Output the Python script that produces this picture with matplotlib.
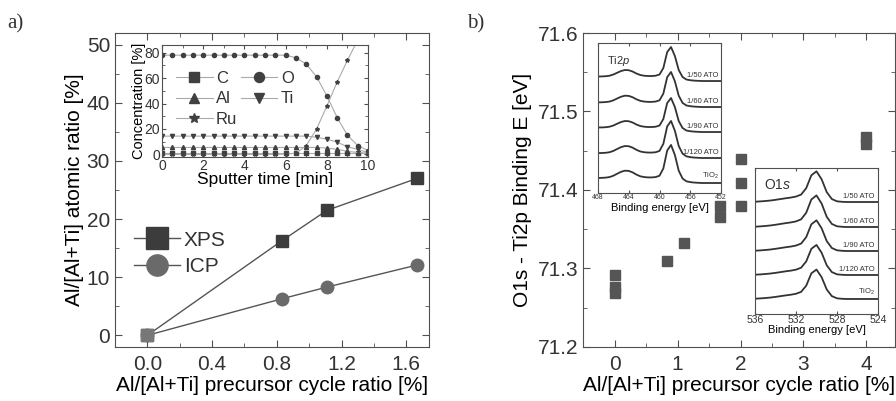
import numpy as np
import matplotlib
matplotlib.use("Agg")
import matplotlib.pyplot as plt
from matplotlib.ticker import MultipleLocator

plt.rcParams['font.family'] = ['Liberation Sans', 'DejaVu Sans']
plt.rcParams['mathtext.fontset'] = 'custom'
plt.rcParams['mathtext.rm'] = 'Liberation Sans'
plt.rcParams['mathtext.it'] = 'Liberation Sans:italic'
plt.rcParams['text.color'] = '#333333'
plt.rcParams['axes.edgecolor'] = '#505050'
plt.rcParams['xtick.color'] = '#505050'
plt.rcParams['ytick.color'] = '#505050'
plt.rcParams['xtick.labelcolor'] = '#333333'
plt.rcParams['ytick.labelcolor'] = '#333333'

# a) atomic ratio vs precursor cycle ratio
cycle = [0.0, 0.833, 1.11, 1.667]
xps = [0.0, 16.3, 21.5, 27.0]
icp = [0.0, 6.3, 8.3, 12.1]

# a) inset: depth profile
t = np.arange(0, 10.01, 0.5)
conc_C = [0.8]*21
conc_O = [78, 78, 78, 78, 78, 78, 78, 78, 78, 78, 78, 78, 78, 76, 71, 61, 46, 29, 15, 7, 3]
conc_Al = [5.5]*16 + [5, 4, 2.5, 1.5, 1]
conc_Ti = [14.4]*15 + [13.5, 12, 9.7, 6, 4, 1.5]
conc_Ru = [0]*12 + [0.3, 1, 7, 20, 38, 57, 74, 90, 97]

# b) binding energy difference
ratio_b = [0, 0, 0, 0.833, 1.11, 1.667, 1.667, 2, 2, 2, 4, 4]
be_diff = [71.292, 71.276, 71.269, 71.309, 71.333, 71.379, 71.365, 71.439, 71.409, 71.379, 71.467, 71.459]

spec_labels = ['TiO$_2$', '1/120 ATO', '1/90 ATO', '1/60 ATO', '1/50 ATO']

# Ti2p spectrum (arb. units above right baseline), 468 -> 452 eV
ti_e = np.arange(468, 451.99, -0.5)
ti_shape = [4.5, 4.6, 4.8, 5.3, 6.5, 8.3, 10.0, 11.0, 10.8, 9.5, 7.5, 6.0, 5.3, 5.0, 5.0, 5.3,
            6.5, 13, 29, 34, 25, 11, 4, 1.5, 0.8, 0.4, 0.2, 0, 0, 0, 0, 0, 0]
ti_offset = [10, 35, 61, 86, 112]
ti_scale = [1.12, 1.09, 1.0, 1.03, 1.0]

# O1s spectrum, 536 -> 524 eV
o_e = np.arange(536, 523.99, -0.5)
o_shape = [0.3, 0.6, 1.0, 1.5, 2.2, 3.0, 3.8, 4.5, 5.5, 7.5, 14, 27, 31, 23, 10, 3, 0.7, 0.2,
           0, 0, 0, 0, 0, 0, 0]
o_offset = [15, 39, 63, 87, 112]
o_scale = [0.95, 0.97, 0.99, 1.02, 0.99]


def style(ax, size):
    ax.tick_params(which='both', direction='in', top=True, right=True, labelsize=size)
    ax.tick_params(which='major', length=5)
    ax.tick_params(which='minor', length=3)


fig = plt.figure(figsize=(8.96, 4.01), dpi=100)

ax1 = fig.add_axes([0.1283, 0.1347, 0.3504, 0.783])
ax1.plot(cycle, xps, '-s', color='#555555', lw=1, ms=9, mfc='#3c3c3c', mec='#3c3c3c', label='XPS')
ax1.plot(cycle, icp, '-o', color='#555555', lw=1, ms=9, mfc='#6a6a6a', mec='#6a6a6a', label='ICP')
ax1.plot([0], [0], 's', ms=9, color='#777777')
ax1.set_xlim(-0.2, 1.74)
ax1.set_ylim(-2, 52)
ax1.xaxis.set_major_locator(MultipleLocator(0.4))
ax1.xaxis.set_minor_locator(MultipleLocator(0.2))
ax1.yaxis.set_major_locator(MultipleLocator(10))
ax1.yaxis.set_minor_locator(MultipleLocator(5))
style(ax1, 15)
ax1.tick_params(axis='x', pad=6)
ax1.set_xlabel('Al/[Al+Ti] precursor cycle ratio [%]', fontsize=15, labelpad=1)
ax1.set_ylabel('Al/[Al+Ti] atomic ratio [%]', fontsize=15, labelpad=2)
ax1.legend(loc='upper left', bbox_to_anchor=(0.0, 0.43), frameon=False, fontsize=15,
           markerscale=1.7, handlelength=2.2, labelspacing=0.35, handletextpad=0.2)

axi = fig.add_axes([0.1808, 0.6085, 0.23, 0.2793])
series = [('C', conc_C, 's'), ('O', conc_O, 'o'), ('Al', conc_Al, '^'),
          ('Ti', conc_Ti, 'v'), ('Ru', conc_Ru, '*')]
hd = {}
for name, vals, mk in series:
    hd[name], = axi.plot(t, vals, '-', marker=mk, color='#aaaaaa', lw=0.8, ms=3,
                         mfc='#404040', mec='#404040', label=name)
axi.set_xlim(0, 10)
axi.set_ylim(-2, 86)
axi.xaxis.set_major_locator(MultipleLocator(2))
axi.xaxis.set_minor_locator(MultipleLocator(1))
axi.yaxis.set_major_locator(MultipleLocator(20))
axi.yaxis.set_minor_locator(MultipleLocator(10))
style(axi, 10)
axi.tick_params(which='major', length=3, pad=1.5)
axi.tick_params(which='minor', length=2)
axi.set_xlabel('Sputter time [min]', fontsize=12.5, labelpad=-1)
axi.set_ylabel('Concentration [%]', fontsize=10.5, labelpad=-1)
axi.legend([hd['C'], hd['Al'], hd['Ru'], hd['O'], hd['Ti']], ['C', 'Al', 'Ru', 'O', 'Ti'],
           ncol=2, loc='upper left', bbox_to_anchor=(0.02, 0.86), frameon=False, fontsize=12,
           markerscale=2.4, handlelength=2.2, labelspacing=0.34, handletextpad=0.2,
           columnspacing=0.2, borderpad=0.1)

ax2 = fig.add_axes([0.6507, 0.1347, 0.348, 0.783])
ax2.plot(ratio_b, be_diff, 's', color='#555555', ms=6.5)
ax2.set_xlim(-0.5, 4.45)
ax2.set_ylim(71.2, 71.6)
ax2.xaxis.set_major_locator(MultipleLocator(1))
ax2.xaxis.set_minor_locator(MultipleLocator(0.5))
ax2.yaxis.set_major_locator(MultipleLocator(0.1))
ax2.yaxis.set_minor_locator(MultipleLocator(0.05))
style(ax2, 15)
ax2.tick_params(axis='x', pad=6)
ax2.set_xlabel('Al/[Al+Ti] precursor cycle ratio [%]', fontsize=15, labelpad=1)
ax2.set_ylabel('O1s - Ti2p Binding E [eV]', fontsize=15, labelpad=4)

axt = fig.add_axes([0.6674, 0.5187, 0.1373, 0.374])
for off, sc, lab in zip(ti_offset, ti_scale, spec_labels):
    axt.plot(ti_e, off + sc*np.array(ti_shape), color='#333333', lw=1.3)
    axt.text(452.3, off + 2, lab, fontsize=5.5, ha='right', va='bottom')
axt.set_xlim(468, 452)
axt.set_ylim(0, 150)
axt.set_xticks([468, 464, 460, 456, 452])
axt.set_yticks([])
axt.tick_params(direction='in', top=True, length=2, labelsize=5, pad=1)
axt.set_xlabel('Binding energy [eV]', fontsize=8, labelpad=1)
axt.text(0.07, 0.93, 'Ti2$p$', transform=axt.transAxes, fontsize=8, va='top')

axo = fig.add_axes([0.8426, 0.217, 0.1373, 0.364])
for off, sc, lab in zip(o_offset, o_scale, spec_labels):
    axo.plot(o_e, off + sc*np.array(o_shape), color='#333333', lw=1.3)
    axo.text(524.3, off + 2, lab, fontsize=5.5, ha='right', va='bottom')
axo.set_xlim(536, 524)
axo.set_ylim(0, 146)
axo.set_xticks([536, 532, 528, 524])
axo.set_yticks([])
axo.tick_params(direction='in', top=True, length=2, labelsize=7.5, pad=1)
axo.set_xlabel('Binding energy [eV]', fontsize=8, labelpad=0)
axo.text(0.07, 0.93, 'O1$s$', transform=axo.transAxes, fontsize=10, va='top')

fig.text(0.008, 0.965, 'a)', fontsize=15, family='Liberation Serif', va='top')
fig.text(0.521, 0.965, 'b)', fontsize=15, family='Liberation Serif', va='top')

fig.savefig('out.png', dpi=100)
